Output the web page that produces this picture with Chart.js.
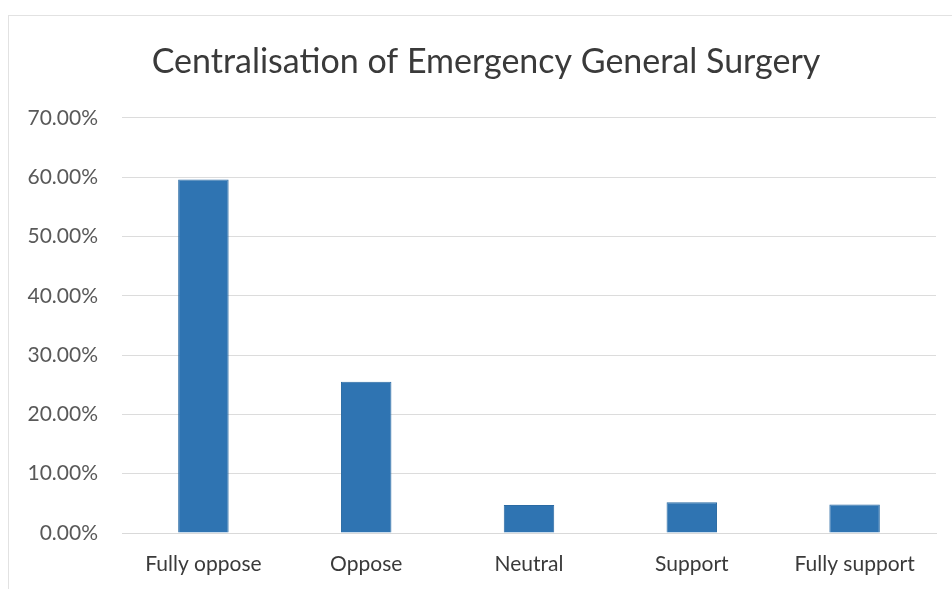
<!DOCTYPE html>
<html>
<head>
<meta charset="utf-8">
<script src="https://cdn.jsdelivr.net/npm/chart.js@4/dist/chart.umd.min.js"></script>
<style>
  html, body { margin: 0; padding: 0; background: #ffffff; }
  #wrap { width: 952px; height: 589px; position: relative; }
</style>
</head>
<body>
<div id="wrap"><canvas id="c" width="952" height="589"></canvas></div>
<script>
// Survey responses on centralising emergency general surgery
const categories = ['Fully oppose', 'Oppose', 'Neutral', 'Support', 'Fully support'];
const shares = [59.6, 25.5, 4.7, 5.2, 4.8];   // percent of respondents
const yTicks = [0, 10, 20, 30, 40, 50, 60, 70];

const FONT = 'Lato, "Open Sans", sans-serif';

// faint frame around the chart panel, and the title centred over the panel
const framePlugin = {
  id: 'frame',
  afterLayout(chart) {
    if (chart.titleBlock) chart.titleBlock.left = 36;
  },
  beforeDraw(chart) {
    const ctx = chart.ctx;
    ctx.save();
    ctx.fillStyle = '#ffffff';
    ctx.fillRect(0, 0, chart.width, chart.height);
    ctx.strokeStyle = '#e2e2e2';
    ctx.lineWidth = 1;
    ctx.strokeRect(8.5, 15.5, chart.width + 20, chart.height + 20);
    ctx.restore();
  }
};

new Chart(document.getElementById('c'), {
  type: 'bar',
  data: {
    labels: categories,
    datasets: [{
      data: shares,
      backgroundColor: '#2f74b2',
      borderColor: '#2a6aa3',
      borderWidth: 1,
      categoryPercentage: 1.0,
      barPercentage: 0.31
    }]
  },
  options: {
    responsive: false,
    animation: false,
    devicePixelRatio: 1,
    layout: { padding: { left: 0, right: 16, top: 0, bottom: 0 } },
    plugins: {
      legend: { display: false },
      tooltip: { enabled: false },
      title: {
        display: true,
        text: 'Centralisation of Emergency General Surgery',
        color: '#3a3a3a',
        font: { family: FONT, size: 34, weight: 'normal', lineHeight: 1.2 },
        padding: { top: 42, bottom: 35 }
      }
    },
    scales: {
      x: {
        grid: { display: false, drawTicks: false },
        border: { display: true, color: '#d9d9d9' },
        ticks: {
          color: '#3a3a3a',
          font: { family: FONT, size: 21 },
          padding: 19,
          maxRotation: 0
        },
        afterFit(scale) { scale.height = 56; }
      },
      y: {
        min: 0,
        max: 70,
        afterBuildTicks(scale) { scale.ticks = yTicks.map(v => ({ value: v })); },
        grid: { color: '#dcdcdc', drawTicks: false },
        border: { display: false },
        ticks: {
          color: '#595959',
          font: { family: FONT, size: 21 },
          padding: 24,
          callback: v => v.toFixed(2) + '%'
        },
        afterFit(scale) { scale.width = 122; }
      }
    }
  },
  plugins: [framePlugin]
});
</script>
</body>
</html>
